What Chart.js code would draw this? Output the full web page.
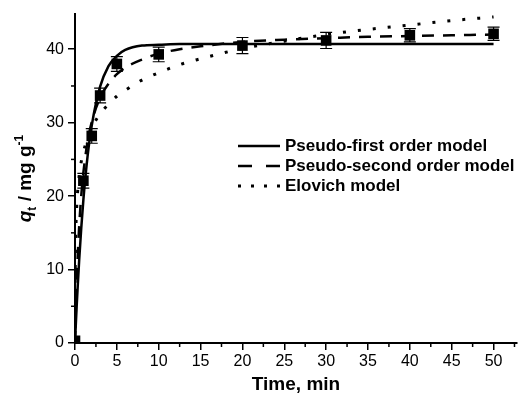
<!DOCTYPE html>
<html><head><meta charset="utf-8">
<script src="https://cdn.jsdelivr.net/npm/chart.js@4/dist/chart.umd.min.js"></script>
<style>html,body{margin:0;padding:0;background:#fff}#wrap{width:518px;height:403px;position:relative}</style>
</head><body><div id="wrap"><canvas id="c"></canvas></div>
<script>
// Experimental data
const timePoints = [0, 1, 2, 3, 5, 10, 20, 30, 40, 50];
const qtExp      = [0.3, 22.1, 28.2, 33.7, 38.0, 39.3, 40.5, 41.2, 41.9, 42.1];
const qtErr      = [0, 1.0, 1.0, 1.0, 1.0, 1.0, 1.1, 1.1, 0.9, 0.9];
// Model curves
const modelTime  = [0, 0.02, 0.05, 0.1, 0.2, 0.3, 0.5, 0.75, 1, 1.5, 2, 3, 4, 5, 6, 8, 10, 12.5, 15, 20, 25, 30, 35, 40, 45, 50];
const pfoModel   = [0, 0.5, 1.3, 2.6, 5.0, 7.2, 11.3, 15.7, 19.5, 25.4, 29.6, 34.9, 37.7, 39.1, 39.9, 40.5, 40.6, 40.7, 40.7, 40.7, 40.7, 40.7, 40.7, 40.7, 40.7, 40.7];
const psoModel   = [0, 1.0, 2.4, 4.5, 8.2, 11.2, 15.9, 20.1, 23.2, 27.4, 30.1, 33.4, 35.3, 36.6, 37.5, 38.6, 39.4, 40.0, 40.4, 41.0, 41.3, 41.5, 41.7, 41.8, 41.9, 42.0];
const elovichModel = [0, 8.5, 12.3, 15.4, 18.5, 20.4, 22.8, 24.7, 26.0, 27.9, 29.3, 31.2, 32.5, 33.6, 34.4, 35.8, 36.8, 37.9, 38.7, 40.1, 41.1, 42.0, 42.7, 43.3, 43.9, 44.4];
const seriesLabels = ['Pseudo-first order model', 'Pseudo-second order model', 'Elovich model'];
const xTickValues = [0, 5, 10, 15, 20, 25, 30, 35, 40, 45, 50];
const yTickValues = [0, 10, 20, 30, 40];
const xTitle = 'Time, min';

const FONT = "'Liberation Sans', Arial, sans-serif";
const toXY = (xs, ys) => xs.map((x, i) => ({x, y: ys[i]}));

const errorBars = {
  id: 'errorBars',
  afterDatasetsDraw(chart) {
    const {ctx, scales: {x, y}} = chart;
    ctx.save();
    ctx.strokeStyle = '#000'; ctx.lineWidth = 1.2;
    timePoints.forEach((t, i) => {
      if (!qtErr[i]) return;
      const px = x.getPixelForValue(t);
      const top = y.getPixelForValue(qtExp[i] + qtErr[i]);
      const bot = y.getPixelForValue(qtExp[i] - qtErr[i]);
      ctx.beginPath();
      ctx.moveTo(px, top); ctx.lineTo(px, bot);
      ctx.moveTo(px - 6, top); ctx.lineTo(px + 6, top);
      ctx.moveTo(px - 6, bot); ctx.lineTo(px + 6, bot);
      ctx.stroke();
    });
    ctx.restore();
  }
};

const decorations = {
  id: 'decorations',
  afterDraw(chart) {
    const {ctx, scales: {x, y}, chartArea} = chart;
    ctx.save();
    // minor ticks (midway between major ticks)
    ctx.strokeStyle = '#000'; ctx.lineWidth = 1.5;
    const xs = xTickValues.concat([xTickValues[xTickValues.length - 1] + (xTickValues[1] - xTickValues[0])]);
    for (let i = 0; i < xs.length - 1; i++) {
      const v = (xs[i] + xs[i + 1]) / 2;
      if (v > x.max) break;
      const px = x.getPixelForValue(v);
      ctx.beginPath(); ctx.moveTo(px, chartArea.bottom); ctx.lineTo(px, chartArea.bottom + 4); ctx.stroke();
    }
    const ys = yTickValues.concat([yTickValues[yTickValues.length - 1] + (yTickValues[1] - yTickValues[0])]);
    for (let i = 0; i < ys.length - 1; i++) {
      const v = (ys[i] + ys[i + 1]) / 2;
      if (v > y.max) break;
      const py = y.getPixelForValue(v);
      ctx.beginPath(); ctx.moveTo(chartArea.left, py); ctx.lineTo(chartArea.left - 4, py); ctx.stroke();
    }
    // x title
    ctx.fillStyle = '#000';
    ctx.font = `bold 19px ${FONT}`;
    ctx.textAlign = 'center'; ctx.textBaseline = 'middle';
    ctx.fillText(xTitle, (chartArea.left + chartArea.right) / 2, 385);
    // y title (rotated, with sub/superscript)
    const parts = [
      {t: 'q', f: `italic bold 19px ${FONT}`, dy: 0},
      {t: 't', f: `bold 12px ${FONT}`, dy: 5},
      {t: ' / mg g', f: `bold 19px ${FONT}`, dy: 0},
      {t: '-1', f: `bold 12px ${FONT}`, dy: -8}
    ];
    let total = 0;
    parts.forEach(p => { ctx.font = p.f; p.w = ctx.measureText(p.t).width; total += p.w; });
    ctx.translate(31, (chartArea.top + chartArea.bottom) / 2);
    ctx.rotate(-Math.PI / 2);
    ctx.textAlign = 'left'; ctx.textBaseline = 'alphabetic';
    let cx = -total / 2;
    parts.forEach(p => { ctx.font = p.f; ctx.fillText(p.t, cx, p.dy); cx += p.w; });
    ctx.setTransform(1, 0, 0, 1, 0, 0);
    // legend
    const rowsY = [146, 166, 186];
    const lx0 = 238, lx1 = 280;
    const ds = chart.data.datasets.slice(1);
    ds.forEach((d, i) => {
      const yy = rowsY[i];
      ctx.strokeStyle = '#000';
      ctx.lineWidth = d.borderWidth;
      ctx.setLineDash(i === 1 ? [14, 14] : (i === 2 ? [3, 10] : []));
      ctx.beginPath(); ctx.moveTo(lx0, yy); ctx.lineTo(lx1, yy); ctx.stroke();
      ctx.setLineDash([]);
      ctx.font = `bold 17px ${FONT}`;
      ctx.textAlign = 'left'; ctx.textBaseline = 'middle';
      ctx.fillText(d.label, 285, yy);
    });
    ctx.restore();
  }
};

new Chart(document.getElementById('c'), {
  type: 'line',
  data: {
    datasets: [
      {label: 'Experimental', data: toXY(timePoints, qtExp), showLine: false,
       pointStyle: 'rect', pointRadius: 7.5, backgroundColor: '#000', borderColor: '#000', borderWidth: 0, order: 0},
      {label: seriesLabels[0], data: toXY(modelTime, pfoModel), borderColor: '#000', borderWidth: 2.5,
       pointRadius: 0, cubicInterpolationMode: 'monotone', fill: false, order: 1},
      {label: seriesLabels[1], data: toXY(modelTime, psoModel), borderColor: '#000', borderWidth: 2.5,
       borderDash: [12, 9], pointRadius: 0, cubicInterpolationMode: 'monotone', fill: false, order: 2},
      {label: seriesLabels[2], data: toXY(modelTime, elovichModel), borderColor: '#000', borderWidth: 3,
       borderDash: [3, 12], pointRadius: 0, cubicInterpolationMode: 'monotone', fill: false, order: 3}
    ]
  },
  options: {
    responsive: true, maintainAspectRatio: false, animation: false,
    layout: {autoPadding: false, padding: {top: 14, right: 1, left: 0, bottom: 0}},
    plugins: {legend: {display: false}, tooltip: {enabled: false}},
    scales: {
      x: {
        type: 'linear', min: 0, max: 52.8,
        afterFit: s => { s.height = 60; s.paddingRight = 0; },
        afterBuildTicks: s => { s.ticks = xTickValues.map(v => ({value: v})); },
        ticks: {color: '#000', font: {family: FONT, size: 16}, padding: 2, maxRotation: 0, autoSkip: false},
        grid: {drawOnChartArea: false, drawTicks: true, tickLength: 7, color: '#000', lineWidth: 1.5},
        border: {display: true, color: '#000', width: 2}
      },
      y: {
        type: 'linear', min: 0, max: 44.8,
        afterFit: s => { s.width = 75; },
        afterBuildTicks: s => { s.ticks = yTickValues.map(v => ({value: v})); },
        ticks: {color: '#000', font: {family: FONT, size: 16}, padding: 4, autoSkip: false},
        grid: {drawOnChartArea: false, drawTicks: true, tickLength: 7, color: '#000', lineWidth: 1.5},
        border: {display: true, color: '#000', width: 2}
      }
    }
  },
  plugins: [errorBars, decorations]
});
</script></body></html>
